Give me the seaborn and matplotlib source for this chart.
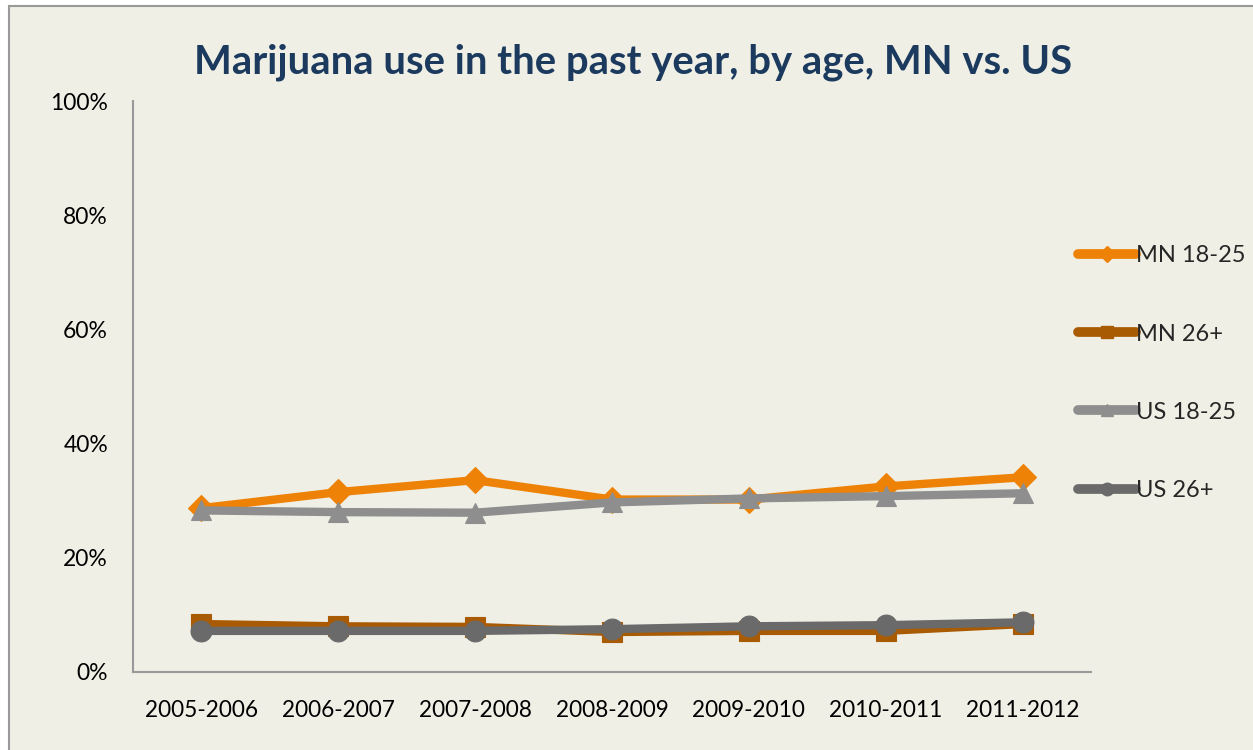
import matplotlib
matplotlib.use("Agg")
import matplotlib.pyplot as plt
from matplotlib.lines import Line2D
from matplotlib.patches import Rectangle
import pandas as pd
import seaborn as sns

# Survey periods
periods = ["2005-2006", "2006-2007", "2007-2008", "2008-2009",
           "2009-2010", "2010-2011", "2011-2012"]

# Past-year marijuana use (%)
mn_18_25 = [28.7, 31.5, 33.6, 30.2, 30.2, 32.5, 34.1]
mn_26p = [8.4, 8.0, 7.9, 7.0, 7.2, 7.2, 8.4]
us_18_25 = [28.3, 28.0, 27.9, 29.7, 30.4, 30.8, 31.3]
us_26p = [7.2, 7.2, 7.2, 7.5, 8.0, 8.2, 8.7]

series_names = ["MN 18-25", "MN 26+", "US 18-25", "US 26+"]
series_values = [mn_18_25, mn_26p, us_18_25, us_26p]
y_ticks = [0, 20, 40, 60, 80, 100]

colors = {"MN 18-25": "#EE8206", "MN 26+": "#A95B04",
          "US 18-25": "#8E8E8E", "US 26+": "#6A6A6A"}
markers = {"MN 18-25": "D", "MN 26+": "s", "US 18-25": "^", "US 26+": "o"}
msizes = {"MN 18-25": 13, "MN 26+": 14, "US 18-25": 15, "US 26+": 15}

rows = []
for name, vals in zip(series_names, series_values):
    for i, (p, v) in enumerate(zip(periods, vals)):
        rows.append({"period": p, "pos": i, "value": v, "series": name})
df = pd.DataFrame(rows)

bg = "#EFEFE6"
sns.set_theme(style="white")
plt.rcParams["font.family"] = ["Lato", "DejaVu Sans"]

fig = plt.figure(figsize=(12.53, 7.5), dpi=100, facecolor="white")
# chart frame
fig.patches.append(Rectangle((9 / 1253, -0.01), 1.02, 1 - 6 / 750 + 0.01,
                             transform=fig.transFigure, facecolor=bg,
                             edgecolor="#999999", linewidth=1.5, zorder=-5))

ax = fig.add_axes([133 / 1253, 1 - 672 / 750, (1091 - 133) / 1253, (672 - 101) / 750])
ax.set_facecolor(bg)
ax.patch.set_alpha(0)

for name in series_names:
    sub = df[df["series"] == name]
    sns.lineplot(data=sub, x="pos", y="value", ax=ax, color=colors[name],
                 linewidth=6, marker=markers[name], markersize=msizes[name],
                 markeredgecolor=colors[name], markeredgewidth=0.8,
                 solid_capstyle="round", label=name, legend=False)

ax.set_xlim(-0.5, 6.5)
ax.set_ylim(0, 100)
ax.set_xticks(range(len(periods)))
ax.set_xticklabels(periods, fontsize=16.3, color="black")
ax.set_yticks(y_ticks)
ax.set_yticklabels([f"{t}%" for t in y_ticks], fontsize=16.5, color="black")
ax.tick_params(axis="both", length=0)
ax.tick_params(axis="x", pad=20)
ax.tick_params(axis="y", pad=18)
ax.set_xlabel("")
ax.set_ylabel("")
for side in ["top", "right"]:
    ax.spines[side].set_visible(False)
for side in ["left", "bottom"]:
    ax.spines[side].set_color("#999999")
    ax.spines[side].set_linewidth(1.5)

fig.text(0.5 + 7 / 1253, 1 - 62 / 750, "Marijuana use in the past year, by age, MN vs. US",
         ha="center", va="center", fontsize=28.8, fontweight="bold", color="#1B3A5E")

handles = [Line2D([0], [0], color=colors[n], linewidth=7, marker=markers[n],
                  markersize=msizes[n] * 0.6, solid_capstyle="round")
           for n in series_names]
leg = fig.legend(handles, series_names, loc="upper left",
                 bbox_to_anchor=(1069 / 1253, 1 - 236 / 750), frameon=False,
                 fontsize=17, handlelength=2.45, handletextpad=0.0,
                 labelspacing=2.42, borderaxespad=0)

fig.savefig("out.png", dpi=100, facecolor="white")
